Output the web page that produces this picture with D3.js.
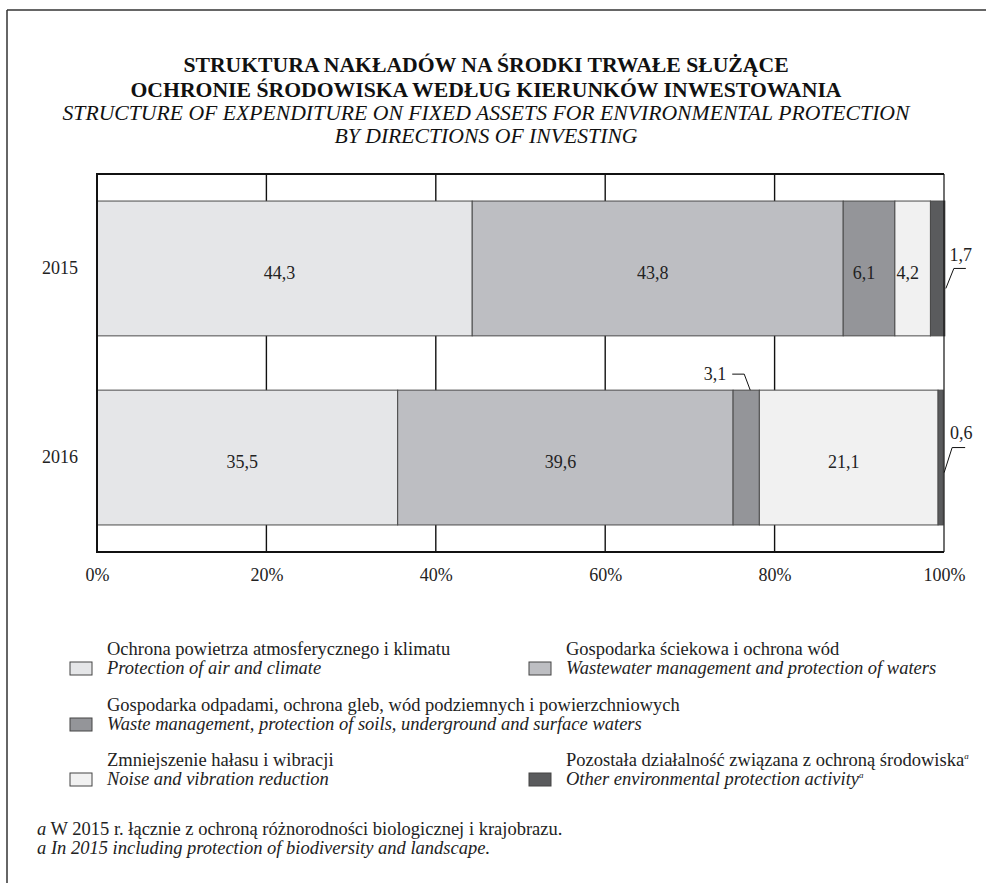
<!DOCTYPE html>
<html>
<head>
<meta charset="utf-8">
<script src="https://cdn.jsdelivr.net/npm/d3@7/dist/d3.min.js"></script>
<style>
  html, body { margin: 0; padding: 0; background: #fff; }
  svg { display: block; font-family: "Liberation Serif", "Times New Roman", serif; }
</style>
</head>
<body>
<svg id="chart" width="986" height="883"></svg>
<script>
// ---- data ----
const years = ["2015", "2016"];
const seriesKeys = ["air", "wastewater", "waste", "noise", "other"];
const values2015 = [44.3, 43.8, 6.1, 4.2, 1.7];
const values2016 = [35.5, 39.6, 3.1, 21.1, 0.6];
const namesPl = [
  "Ochrona powietrza atmosferycznego i klimatu",
  "Gospodarka ściekowa i ochrona wód",
  "Gospodarka odpadami, ochrona gleb, wód podziemnych i powierzchniowych",
  "Zmniejszenie hałasu i wibracji",
  "Pozostała działalność związana z ochroną środowiska"
];
const namesEn = [
  "Protection of air and climate",
  "Wastewater management and protection of waters",
  "Waste management, protection of soils, underground and surface waters",
  "Noise and vibration reduction",
  "Other environmental protection activity"
];
const footnoteKeys = ["other"];
const xTicks = [0, 20, 40, 60, 80, 100];
const titleLines = [
  "STRUKTURA NAKŁADÓW NA ŚRODKI TRWAŁE SŁUŻĄCE",
  "OCHRONIE ŚRODOWISKA WEDŁUG KIERUNKÓW INWESTOWANIA",
  "STRUCTURE OF EXPENDITURE ON FIXED ASSETS FOR ENVIRONMENTAL PROTECTION",
  "BY DIRECTIONS OF INVESTING"
];
const footnotePl = "W 2015 r. łącznie z ochroną różnorodności biologicznej i krajobrazu.";
const footnoteEn = "In 2015 including protection of biodiversity and landscape.";
// segments whose value is written outside the bar, with a leader line
const calloutSegments = [
  { year: "2015", key: "other" },
  { year: "2016", key: "waste" },
  { year: "2016", key: "other" }
];

// ---- styling ----
const fills = ["#e5e6e8", "#bdbec2", "#949599", "#f1f1f1", "#5a5b5d"];
const ink = "#222";
const labelSize = 18;
const legendSize = 18.5;

const rows = years.map((yr, i) => {
  const vals = i === 0 ? values2015 : values2016;
  const r = { year: yr };
  seriesKeys.forEach((k, j) => r[k] = vals[j]);
  return r;
});

const svg = d3.select("#chart");
const W = 986;

// page frame (top and left rules)
svg.append("line").attr("x1", 7).attr("x2", W).attr("y1", 10).attr("y2", 10)
  .attr("stroke", "#333").attr("stroke-width", 1.5);
svg.append("line").attr("x1", 7).attr("x2", 7).attr("y1", 10).attr("y2", 883)
  .attr("stroke", "#333").attr("stroke-width", 1.5);

// title
const titleCx = 486;
const titleY = [72, 97, 120, 143];
titleLines.forEach((t, i) => {
  svg.append("text")
    .attr("x", titleCx).attr("y", titleY[i])
    .attr("text-anchor", "middle")
    .attr("font-size", 21.7)
    .attr("font-weight", i < 2 ? "bold" : "normal")
    .attr("font-style", i < 2 ? "normal" : "italic")
    .attr("fill", "#111")
    .text(t);
});

// scales
const plot = { left: 97, right: 944, top: 174, bottom: 552 };
const x = d3.scaleLinear().domain([0, 100]).range([plot.left, plot.right]);
const y = d3.scaleBand().domain(years).range([plot.top, plot.bottom])
  .paddingInner(0.287).paddingOuter(0.143);
const color = d3.scaleOrdinal().domain(seriesKeys).range(fills);

// gridlines
svg.append("g").selectAll("line")
  .data(xTicks.filter(d => d > 0 && d < 100))
  .join("line")
  .attr("x1", d => x(d)).attr("x2", d => x(d))
  .attr("y1", plot.top).attr("y2", plot.bottom)
  .attr("stroke", "#111").attr("stroke-width", 1.4);

// stacked bars
const stacked = d3.stack().keys(seriesKeys)(rows);
const segs = [];
stacked.forEach(layer => {
  layer.forEach(d => {
    segs.push({ key: layer.key, year: d.data.year, x0: d[0], x1: d[1], value: d.data[layer.key] });
  });
});

svg.append("g").selectAll("rect")
  .data(segs)
  .join("rect")
  .attr("x", d => x(d.x0))
  .attr("y", d => y(d.year))
  .attr("width", d => x(d.x1) - x(d.x0))
  .attr("height", y.bandwidth())
  .attr("fill", d => color(d.key))
  .attr("stroke", "#4a4a4a")
  .attr("stroke-width", 1);

// plot frame
const frame = svg.append("g").attr("stroke", "#111");
frame.append("line").attr("x1", plot.left).attr("x2", plot.right).attr("y1", plot.top).attr("y2", plot.top).attr("stroke-width", 2);
frame.append("line").attr("x1", plot.left).attr("x2", plot.right).attr("y1", plot.bottom).attr("y2", plot.bottom).attr("stroke-width", 2);
frame.append("line").attr("x1", plot.left).attr("x2", plot.left).attr("y1", plot.top - 1).attr("y2", plot.bottom + 1).attr("stroke-width", 2);
frame.append("line").attr("x1", plot.right).attr("x2", plot.right).attr("y1", plot.top).attr("y2", plot.bottom).attr("stroke-width", 1.2);

// axes
const fmt = v => d3.format(".1f")(v).replace(".", ",");
const xAxis = svg.append("g")
  .attr("transform", `translate(0,${plot.bottom})`)
  .call(d3.axisBottom(x).tickValues(xTicks).tickFormat(d => d + "%").tickSize(0).tickPadding(16));
xAxis.select(".domain").remove();
xAxis.selectAll("text").attr("font-size", labelSize).attr("font-family", "Liberation Serif").attr("fill", ink);

const yAxis = svg.append("g")
  .attr("transform", `translate(${plot.left},0)`)
  .call(d3.axisLeft(y).tickSize(0).tickPadding(19));
yAxis.select(".domain").remove();
yAxis.selectAll("text").attr("font-size", labelSize).attr("font-family", "Liberation Serif").attr("fill", ink);

// value labels inside the bars
const isCallout = d => calloutSegments.some(c => c.year === d.year && c.key === d.key);
svg.append("g").selectAll("text")
  .data(segs.filter(d => !isCallout(d)))
  .join("text")
  .attr("x", d => (x(d.x0) + x(d.x1)) / 2 - 5)
  .attr("y", d => y(d.year) + y.bandwidth() / 2 + 4)
  .attr("dy", "0.35em")
  .attr("text-anchor", "middle")
  .attr("font-size", labelSize)
  .attr("fill", ink)
  .text(d => fmt(d.value));

// callout labels with leader lines
const leader = svg.append("g");
segs.filter(isCallout).forEach(d => {
  const cy = y(d.year) + y.bandwidth() / 2;
  const xe = x(d.x1);
  let pts, tx, ty, anchor;
  if (d.key === "other" && d.year === "2015") {
    pts = [[xe + 1, cy + 20], [xe + 9, cy], [xe + 21, cy]];
    tx = xe + 16; ty = cy - 7; anchor = "middle";
  } else if (d.key === "other") {
    pts = [[xe + 1, cy + 15], [xe + 9, cy - 10], [xe + 22, cy - 10]];
    tx = xe + 18; ty = cy - 19; anchor = "middle";
  } else {
    const top = y(d.year);
    const ax = (x(d.x0) + x(d.x1)) / 2 + 4;
    pts = [[ax, top], [ax - 6, top - 16], [ax - 18, top - 16]];
    tx = ax - 24; ty = top - 16 + 6; anchor = "end";
  }
  leader.append("path")
    .attr("d", d3.line()(pts))
    .attr("fill", "none").attr("stroke", "#111").attr("stroke-width", 1);
  leader.append("text")
    .attr("x", tx).attr("y", ty)
    .attr("text-anchor", anchor)
    .attr("font-size", labelSize)
    .attr("fill", ink)
    .text(fmt(d.value));
});

// legend
const legendSlots = [[0, 0], [1, 0], [0, 1], [0, 2], [1, 2]];
const colX = [70, 529];
const rowY = [674, 730, 785];
const legend = svg.append("g");
seriesKeys.forEach((k, i) => {
  const [c, r] = legendSlots[i];
  const sx = colX[c], by = rowY[r];
  const g = legend.append("g");
  g.append("rect")
    .attr("x", sx).attr("y", by - 12)
    .attr("width", 22).attr("height", 13)
    .attr("fill", color(k)).attr("stroke", "#444").attr("stroke-width", 1);
  const tPl = g.append("text")
    .attr("x", sx + 37).attr("y", by - 19)
    .attr("font-size", legendSize).attr("fill", ink)
    .text(namesPl[i]);
  const tEn = g.append("text")
    .attr("x", sx + 37).attr("y", by)
    .attr("font-size", legendSize).attr("font-style", "italic").attr("fill", ink)
    .text(namesEn[i]);
  if (footnoteKeys.includes(k)) {
    [tPl, tEn].forEach(t => t.append("tspan")
      .attr("font-size", 9).attr("font-style", "italic").attr("dy", -7).text("a"));
  }
});

// footnote
const fn1 = svg.append("text").attr("x", 37).attr("y", 835).attr("font-size", legendSize).attr("fill", ink);
fn1.append("tspan").attr("font-style", "italic").text("a");
fn1.append("tspan").text(" " + footnotePl);
svg.append("text").attr("x", 37).attr("y", 854).attr("font-size", legendSize)
  .attr("font-style", "italic").attr("fill", ink)
  .text("a " + footnoteEn);
</script>
</body>
</html>
